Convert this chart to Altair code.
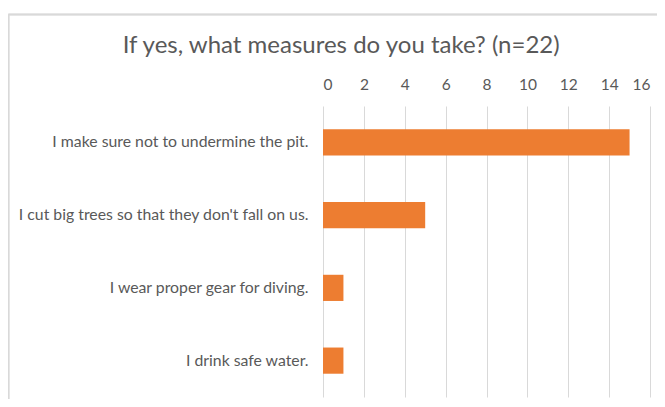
import altair as alt
import pandas as pd

categories = [
    "I make sure not to undermine the pit.",
    "I cut big trees so that they don't fall on us.",
    "I wear proper gear for diving.",
    "I drink safe water.",
]
values = [15, 5, 1, 1]
x_ticks = [0, 2, 4, 6, 8, 10, 12, 14, 16]

df = pd.DataFrame({"measure": categories, "count": values})

FONT = "Lato, Open Sans, sans-serif"
GRAY = "#595959"

bars = alt.Chart(df).mark_bar(color="#ED7D31").encode(
    x=alt.X(
        "count:Q",
        scale=alt.Scale(domain=[0, 16], nice=False),
        axis=alt.Axis(
            orient="top", values=x_ticks, title=None, domain=False, ticks=False,
            grid=True, gridColor="#D9D9D9", gridWidth=1,
            labelFont=FONT, labelFontSize=15.5, labelColor=GRAY, labelPadding=14,
        ),
    ),
    y=alt.Y(
        "measure:N",
        sort=categories,
        scale=alt.Scale(paddingInner=0.64, paddingOuter=0.32),
        axis=alt.Axis(
            title=None, domain=False, ticks=False, grid=False,
            labelFont=FONT, labelFontSize=15.8, labelColor=GRAY, labelPadding=15,
            labelLimit=400,
        ),
    ),
)

border = alt.Chart(df).mark_rule(color="#D9D9D9", strokeWidth=1.5, clip=False).encode(
    x=alt.value(-314.5), x2=alt.value(360), y=alt.value(-91.5)
)
border_left = alt.Chart(df).mark_rule(color="#D9D9D9", strokeWidth=1.5, clip=False).encode(
    x=alt.value(-314.5), y=alt.value(-91.5), y2=alt.value(320)
)

chart = alt.layer(border, border_left, bars).properties(
    width=327,
    height=291,
    autosize=alt.AutoSizeParams(type="none"),
    padding={"left": 315, "top": 98, "right": 7, "bottom": 2},
    title=alt.TitleParams(
        "If yes, what measures do you take? (n=22)",
        anchor="start", dx=115, offset=-44,
        font=FONT, fontSize=24, fontWeight="normal", color=GRAY,
    ),
).configure_view(stroke=None)

chart.save("out.html", embed_options={"renderer": "svg", "actions": False})
